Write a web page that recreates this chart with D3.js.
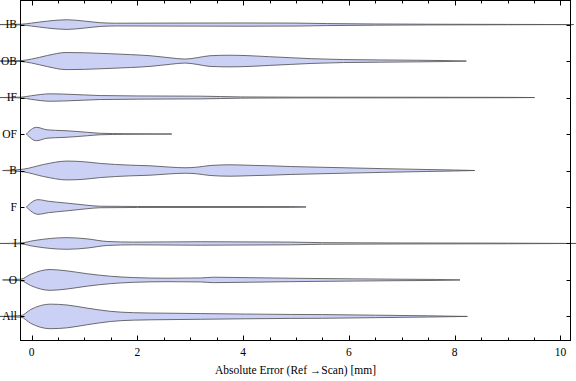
<!DOCTYPE html>
<html>
<head>
<meta charset="utf-8">
<script src="https://cdn.jsdelivr.net/npm/d3@7"></script>
<style>
  html, body { margin: 0; padding: 0; background: #fff; }
  svg { display: block; }
  text { font-family: "Liberation Serif", "Times New Roman", serif; fill: #000; }
</style>
</head>
<body>
<svg id="chart" width="576" height="381"></svg>
<script>
// ---- data ----
const categories = ["IB", "OB", "IF", "OF", "B", "F", "I", "O", "All"];

// each violin: [absolute error (mm), relative density]
const violinIB = [[-0.6,0],[-0.2,0.03],[0,0.12],[0.3,0.28],[0.67,0.39],[1.0,0.28],[1.3,0.15],[1.6,0.11],[2.5,0.12],[4,0.13],[5,0.12],[5.6,0.08],[6.5,0.05],[7.5,0.03],[9,0.015],[10.25,0]];
const violinOB = [[-0.6,0],[-0.2,0.04],[0,0.16],[0.3,0.45],[0.65,0.69],[1.0,0.67],[1.5,0.59],[1.87,0.52],[2.24,0.43],[2.62,0.26],[2.9,0.16],[3.13,0.27],[3.37,0.43],[3.75,0.47],[4.13,0.43],[4.5,0.35],[4.9,0.27],[5.3,0.19],[5.9,0.12],[6.6,0.09],[7.3,0.065],[7.8,0.04],[8.22,0]];
const violinIF = [[-0.6,0],[-0.2,0.03],[0,0.15],[0.35,0.3],[0.6,0.28],[1.0,0.21],[1.3,0.16],[2.0,0.13],[3.2,0.11],[3.95,0.05],[5,0.03],[7,0.025],[9,0.015],[9.51,0]];
const violinOF = [[-0.1,0],[0.09,0.54],[0.29,0.34],[0.45,0.3],[0.67,0.26],[1.05,0.14],[1.3,0.06],[1.75,0.025],[2.65,0]];
const violinB  = [[-0.55,0],[-0.15,0.11],[0.23,0.49],[0.67,0.76],[0.98,0.71],[1.3,0.57],[1.87,0.43],[2.24,0.38],[2.62,0.27],[2.9,0.22],[3.13,0.27],[3.37,0.4],[3.75,0.46],[4.13,0.42],[4.5,0.38],[4.9,0.32],[5.7,0.24],[6.64,0.15],[7.46,0.08],[8.0,0.04],[8.38,0]];
const violinF  = [[-0.1,0],[0.12,0.59],[0.32,0.46],[0.67,0.31],[1.05,0.14],[1.3,0.06],[2.0,0.04],[4.9,0.03],[5.19,0]];
const violinI  = [[-0.6,0],[-0.2,0.04],[0.04,0.23],[0.67,0.47],[1.05,0.37],[1.43,0.16],[1.93,0.11],[3.2,0.14],[4.9,0.11],[5.5,0.065],[7,0.04],[9,0.025],[10.3,0]];
const violinO  = [[-0.55,0],[-0.2,0.065],[-0.02,0.45],[0.35,0.84],[0.67,0.73],[1.05,0.5],[1.49,0.3],[1.93,0.19],[2.56,0.14],[3.2,0.16],[3.44,0.22],[3.81,0.2],[4.9,0.14],[5.3,0.12],[6.76,0.065],[7.65,0.04],[8.1,0]];
const violinAll= [[-0.6,0],[-0.2,0.065],[-0.02,0.55],[0.35,0.99],[0.67,0.92],[1.05,0.67],[1.49,0.41],[1.93,0.3],[2.56,0.26],[3.2,0.23],[4.9,0.16],[5.5,0.15],[6.5,0.1],[7.5,0.05],[8.24,0]];

const violins = [violinIB, violinOB, violinIF, violinOF, violinB, violinF, violinI, violinO, violinAll];

const xMajorTicks = [0, 2, 4, 6, 8, 10];
const xMinorTicks = d3.range(0, 10.01, 0.5);
const xTitle = "Absolute Error (Ref \u2192Scan) [mm]";

// ---- layout ----
const svg = d3.select("#chart");
const mLeft = 20.5, mRight = 570.5, mTop = 0.5, mBottom = 340.5;

const x = d3.scaleLinear().domain([-0.21, 10.19]).range([mLeft, mRight]);
const y = d3.scalePoint().domain(categories).range([mTop, mBottom]).padding(0.66);
const w = d3.scaleLinear().domain([0, 1]).range([0, 12.4]);

// violins
const area = d3.area()
  .curve(d3.curveMonotoneX)
  .x(d => x(d[0]));

violins.forEach((v, i) => {
  const cy = y(categories[i]);
  svg.append("path")
    .datum(v)
    .attr("d", area.y0(d => cy - w(d[1])).y1(d => cy + w(d[1])))
    .attr("fill", "#cbd0f5")
    .attr("stroke", "#555")
    .attr("stroke-opacity", 0.85)
    .attr("stroke-width", 1);
});

// frame
svg.append("rect")
  .attr("x", mLeft).attr("y", mTop)
  .attr("width", mRight - mLeft).attr("height", mBottom - mTop)
  .attr("fill", "none").attr("stroke", "#000").attr("stroke-width", 1);

// x ticks bottom & top
const tickG = svg.append("g").attr("stroke", "#000").attr("stroke-width", 1);
xMinorTicks.forEach(t => {
  const major = xMajorTicks.includes(t);
  const len = major ? 5 : 3;
  const px = Math.round(x(t)) + 0.5;
  tickG.append("line").attr("x1", px).attr("x2", px).attr("y1", mBottom).attr("y2", mBottom - len);
  tickG.append("line").attr("x1", px).attr("x2", px).attr("y1", mTop).attr("y2", mTop + len);
});
// y ticks left & right
categories.forEach(c => {
  const py = Math.round(y(c)) + 0.5;
  tickG.append("line").attr("x1", mLeft).attr("x2", mLeft + 4).attr("y1", py).attr("y2", py);
  tickG.append("line").attr("x1", mRight).attr("x2", mRight - 4).attr("y1", py).attr("y2", py);
});

// x tick labels
svg.append("g").selectAll("text")
  .data(xMajorTicks)
  .join("text")
  .attr("x", d => x(d))
  .attr("y", 356)
  .attr("text-anchor", "middle")
  .attr("font-size", 11.5)
  .text(d => d);

// category labels
svg.append("g").selectAll("text")
  .data(categories)
  .join("text")
  .attr("x", 17)
  .attr("y", d => y(d))
  .attr("dy", "0.34em")
  .attr("text-anchor", "end")
  .attr("font-size", 11.5)
  .text(d => d);

// axis title
svg.append("text")
  .attr("x", (mLeft + mRight) / 2)
  .attr("y", 374)
  .attr("text-anchor", "middle")
  .attr("font-size", 11.5)
  .text(xTitle);
</script>
</body>
</html>
